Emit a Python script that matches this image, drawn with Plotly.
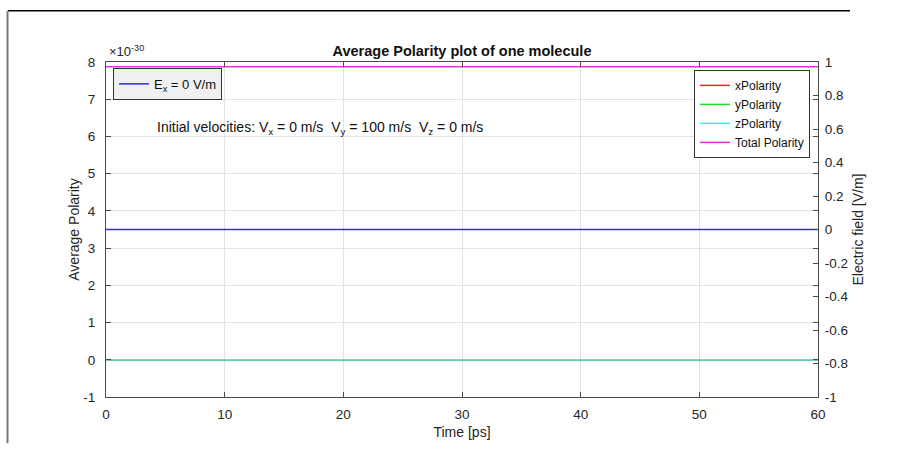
import plotly.graph_objects as go

# Simulation output: time axis and averaged polarity components (C·m)
time_ps = [0, 10, 20, 30, 40, 50, 60]
x_polarity = [0, 0, 0, 0, 0, 0, 0]
y_polarity = [0, 0, 0, 0, 0, 0, 0]
z_polarity = [0, 0, 0, 0, 0, 0, 0]
total_polarity = [7.87e-30] * 7
# Applied electric field (V/m)
e_field = [0, 0, 0, 0, 0, 0, 0]

scale = 1e-30
left_ticks = list(range(-1, 9))
right_ticks = [-1, -0.8, -0.6, -0.4, -0.2, 0, 0.2, 0.4, 0.6, 0.8, 1]


def fmt(v):
    return f"{v:g}"


font = "Liberation Sans, Arial, Helvetica, sans-serif"
axis_col = "#4a4a4a"
grid_col = "#e3e3e3"
tick_font = dict(size=13.5, color="#262626")
label_font = dict(size=14, color="#262626")

fig = go.Figure()

series = [
    ("xPolarity", x_polarity, "#ff2020"),
    ("yPolarity", y_polarity, "#20e020"),
    ("zPolarity", z_polarity, "#30f0f0"),
    ("Total Polarity", total_polarity, "#e030e0"),
]
for name, vals, col in series:
    fig.add_trace(go.Scatter(
        x=time_ps, y=[v / scale for v in vals], mode="lines", name=name,
        line=dict(color=col, width=1.5), legend="legend2", yaxis="y",
    ))

fig.add_trace(go.Scatter(
    x=time_ps, y=e_field, mode="lines", name="E<sub>x</sub> = 0 V/m",
    line=dict(color="#3030d0", width=1.5), legend="legend", yaxis="y2",
))

W, H = 902, 449
ml, mr, mt, mb = 106, 84, 62, 47
pw, ph = W - ml - mr, H - mt - mb


def px(x):
    return (x - ml) / pw


def py(y):
    return (H - mb - y) / ph


fig.update_layout(
    width=W, height=H,
    margin=dict(l=ml, r=mr, t=mt, b=mb),
    paper_bgcolor="white", plot_bgcolor="white",
    font=dict(family=font, size=12, color="#262626"),
    showlegend=True,
    title=dict(text="<b>Average Polarity plot of one molecule</b>",
               xref="paper", x=0.5, xanchor="center",
               y=1 - 51 / H, yanchor="middle",
               font=dict(size=14.5, color="#111")),
    xaxis=dict(
        range=[0, 60], tickvals=[0, 10, 20, 30, 40, 50, 60],
        showgrid=True, gridcolor=grid_col, zeroline=False,
        showline=True, linecolor=axis_col, linewidth=1, mirror="ticks",
        ticks="inside", ticklen=5, tickcolor=axis_col,
        ticklabelstandoff=5, tickfont=tick_font,
        title=dict(text="Time [ps]", font=label_font, standoff=5),
    ),
    yaxis=dict(
        range=[-1, 8], tickvals=left_ticks, ticktext=[fmt(v) for v in left_ticks],
        showgrid=True, gridcolor=grid_col, zeroline=False,
        showline=True, linecolor=axis_col, linewidth=1, mirror="ticks",
        ticks="inside", ticklen=5, tickcolor=axis_col,
        ticklabelstandoff=7, tickfont=tick_font,
        title=dict(text="Average Polarity", font=label_font, standoff=0),
    ),
    yaxis2=dict(
        range=[-1, 1], overlaying="y", side="right",
        tickvals=right_ticks, ticktext=[fmt(v) for v in right_ticks],
        showgrid=False, zeroline=False,
        showline=True, linecolor=axis_col, linewidth=1,
        ticks="inside", ticklen=5, tickcolor=axis_col,
        ticklabelstandoff=3, tickfont=tick_font,
        title=dict(text="Electric field [V/m]", font=label_font, standoff=5),
    ),
    legend=dict(
        x=px(113), y=py(68), xanchor="left", yanchor="top",
        bgcolor="#f0f0f0", bordercolor="#333", borderwidth=1,
        font=dict(size=13, color="#111"), itemwidth=30,
    ),
    legend2=dict(
        x=px(810), y=py(70), xanchor="right", yanchor="top",
        bgcolor="white", bordercolor="#333", borderwidth=1,
        font=dict(size=12, color="#111"), itemwidth=30,
        tracegroupgap=0,
    ),
    annotations=[
        dict(text="×10<sup>-30</sup>", xref="paper", yref="paper",
             x=px(107), y=py(51), xanchor="left", yanchor="middle",
             showarrow=False, font=dict(size=13, color="#262626")),
        dict(text="Initial velocities: V<sub>x</sub> = 0 m/s  V<sub>y</sub> = 100 m/s  V<sub>z</sub> = 0 m/s",
             xref="paper", yref="paper", x=px(155), y=py(129),
             xanchor="left", yanchor="middle", showarrow=False,
             font=dict(size=14, color="#111")),
    ],
    shapes=[
        # frame lines around the figure
        dict(type="line", xref="paper", yref="paper",
             x0=px(8), x1=px(850), y0=py(10), y1=py(10),
             line=dict(color="black", width=1.5)),
        dict(type="line", xref="paper", yref="paper",
             x0=px(7.5), x1=px(7.5), y0=py(10), y1=py(449),
             line=dict(color="#7a7a7a", width=2)),
    ],
)

fig.write_html("out.html")
